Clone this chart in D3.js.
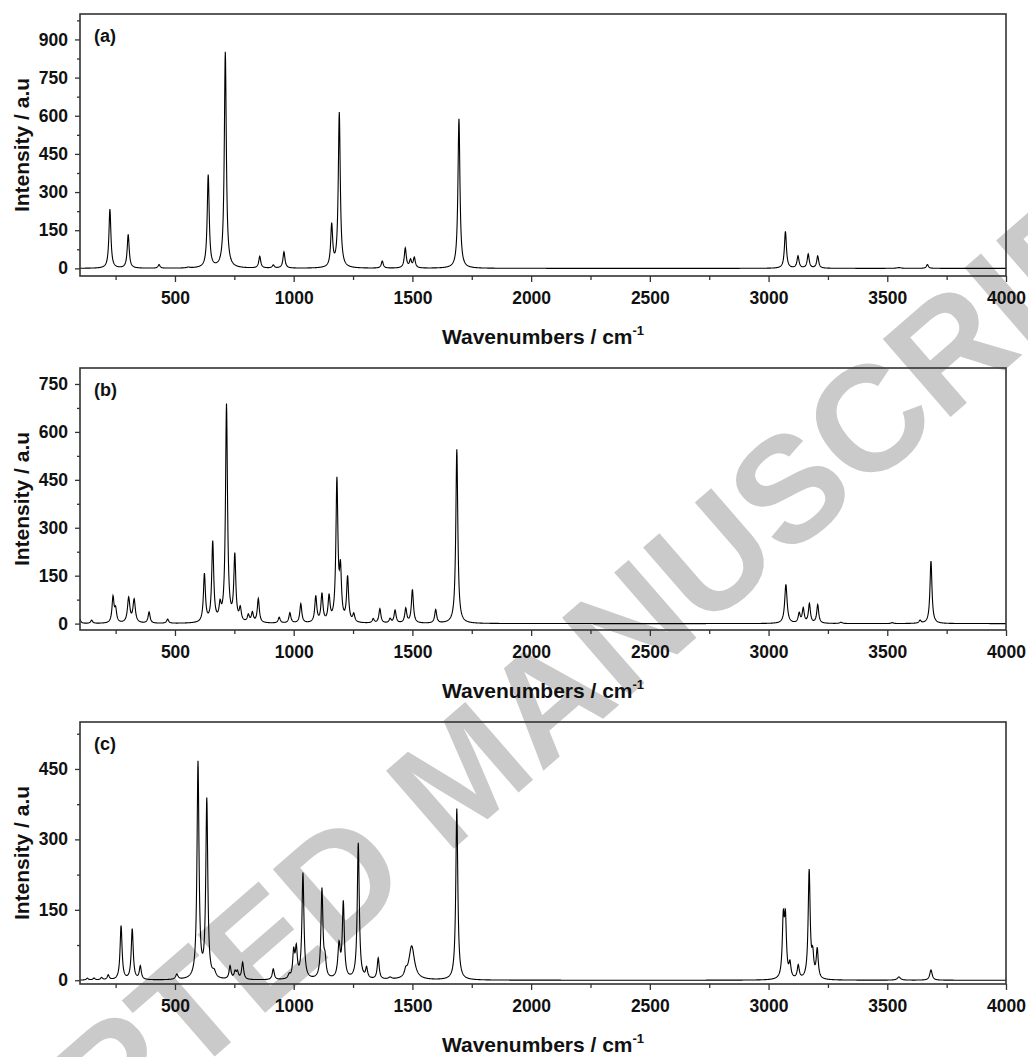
<!DOCTYPE html>
<meta charset="utf-8">
<title>IR spectra</title>
<style>
body {
  margin: 0;
  background: #fff;
}

svg text {
  font-family: "Liberation Sans", Arial, sans-serif;
  font-weight: bold;
  fill: #111;
}

.tick text {
  font-size: 17.5px;
}

.axis-title {
  font-size: 21px;
}

.panel-label {
  font-size: 18px;
}

.watermark {
  font-size: 150px;
}

</style>
<body>
<svg width="1028" height="1057"></svg>

<script src="https://cdnjs.cloudflare.com/ajax/libs/d3/7.8.5/d3.min.js"></script>

<script>
// peak lists (wavenumber, intensity, half width)
var peaksA = [226, 303, 433, 556, 640, 712, 857, 914, 959, 1160, 1192, 1373, 1470, 1492, 1508, 1696, 3071, 3124, 3167, 3207, 3549, 3669];
var intensA = [232, 132, 14, 3, 365, 850, 46, 12, 64, 165, 610, 28, 78, 30, 40, 588, 145, 48, 55, 48, 3, 15];
var widthA = [5, 5, 5, 8, 5, 5, 5, 5, 5, 5, 5, 5, 5, 5, 5, 5, 5, 5, 5, 5, 10, 5];

var peaksB = [98, 149, 239, 250, 305, 328, 391, 469, 624, 659, 690, 717, 752, 775, 809, 826, 851, 939, 984, 1030, 1093, 1119, 1149, 1182, 1197, 1227, 1253, 1335, 1363, 1406, 1427, 1472, 1500, 1598, 1687, 3073, 3129, 3146, 3172, 3207, 3305, 3521, 3638, 3684];
var intensB = [16, 10, 80, 40, 78, 72, 35, 13, 150, 250, 45, 680, 205, 40, 22, 30, 75, 18, 32, 60, 82, 88, 78, 440, 150, 140, 25, 13, 45, 13, 40, 45, 105, 42, 545, 122, 30, 45, 60, 58, 4, 3, 9, 196];
var widthB = [5, 5, 5, 5, 6, 6, 5, 5, 5, 5, 5, 5, 5, 5, 5, 5, 5, 5, 5, 5, 5, 5, 5, 5, 5, 5, 5, 5, 5, 5, 5, 5, 5, 5, 5, 6, 5, 5, 5, 5, 6, 5, 5, 5];

var peaksC = [131, 159, 191, 219, 273, 320, 354, 508, 597, 634, 665, 732, 753, 763, 785, 914, 981, 1000, 1011, 1039, 1119, 1132, 1191, 1209, 1272, 1307, 1356, 1406, 1472, 1497, 1687, 3062, 3071, 3090, 3125, 3171, 3186, 3205, 3549, 3684];
var intensC = [4, 4, 5, 10, 115, 108, 28, 11, 460, 380, 12, 28, 15, 15, 36, 23, 8, 55, 60, 225, 190, 35, 70, 160, 290, 22, 45, 4, 12, 72, 365, 120, 120, 30, 28, 230, 45, 62, 7, 22];
var widthC = [5, 5, 5, 5, 5, 5, 5, 6, 5, 5, 8, 5, 5, 5, 5, 5, 5, 5, 5, 5, 5, 5, 6, 5, 5, 5, 5, 8, 6, 14, 5, 5, 5, 5, 5, 5, 5, 5, 8, 6];

// axis ticks
var xTicks = [500, 1000, 1500, 2000, 2500, 3000, 3500, 4000];
var xMinor = [250, 750, 1250, 1750, 2250, 2750, 3250, 3750];
var xDomain = [100, 4000];

var yTicksA = [0, 150, 300, 450, 600, 750, 900];
var yMinorA = [75, 225, 375, 525, 675, 825, 975];
var yTicksB = [0, 150, 300, 450, 600, 750];
var yMinorB = [75, 225, 375, 525, 675];
var yTicksC = [0, 150, 300, 450];
var yMinorC = [75, 225, 375, 525];

var panels = [
  {label: "(a)", pos: peaksA, val: intensA, w: widthA, yDomain: [-30, 1000], ticks: yTicksA, minor: yMinorA},
  {label: "(b)", pos: peaksB, val: intensB, w: widthB, yDomain: [-20, 800], ticks: yTicksB, minor: yMinorB},
  {label: "(c)", pos: peaksC, val: intensC, w: widthC, yDomain: [-8, 550], ticks: yTicksC, minor: yMinorC}
];

var svg = d3.select("svg"),
    width = +svg.attr("width"),
    height = +svg.attr("height");

var left = 80, right = 1006,
    tops = [14, 368, 722],
    plotH = 262;

// watermark sits behind everything
svg.append("text")
    .attr("class", "watermark")
    .attr("text-anchor", "middle")
    .attr("dy", "0.35em")
    .attr("transform", "translate(462,772) rotate(-41)")
    .style("fill", "#cacaca")
    .text("ACCEPTED MANUSCRIPT");

var x = d3.scaleLinear().domain(xDomain).range([left, right]);

// broaden the stick spectrum into a continuous trace
function spectrum(p) {
  var pts = [];
  for (var v = xDomain[0]; v <= xDomain[1]; v += 1) {
    var s = 0;
    for (var k = 0; k < p.pos.length; k++) {
      var g = p.w[k], dx = v - p.pos[k];
      s += p.val[k] * g * g / (dx * dx + g * g);
    }
    pts.push([v, s]);
  }
  return pts;
}

panels.forEach(function(p, i) {
  var top = tops[i], bottom = top + plotH;
  var y = d3.scaleLinear().domain(p.yDomain).range([bottom, top]);
  var g = svg.append("g");

  g.append("clipPath")
      .attr("id", "clip" + i)
    .append("rect")
      .attr("x", left).attr("y", top)
      .attr("width", right - left).attr("height", plotH);

  var line = d3.line()
      .x(function(d) { return x(d[0]); })
      .y(function(d) { return y(d[1]); });

  g.append("path")
      .datum(spectrum(p))
      .attr("clip-path", "url(#clip" + i + ")")
      .attr("fill", "none")
      .attr("stroke", "#000")
      .attr("stroke-width", 1.1)
      .attr("d", line);

  // x axis, major + minor
  g.append("g")
      .attr("transform", "translate(0," + bottom + ")")
      .call(d3.axisBottom(x).tickValues(xTicks).tickSize(6).tickPadding(10).tickFormat(d3.format("d")));
  g.append("g")
      .attr("transform", "translate(0," + bottom + ")")
      .call(d3.axisBottom(x).tickValues(xMinor).tickSize(4).tickFormat(""));

  // y axis, major + minor
  g.append("g")
      .attr("transform", "translate(" + left + ",0)")
      .call(d3.axisLeft(y).tickValues(p.ticks).tickSize(5).tickPadding(7).tickFormat(d3.format("d")));
  g.append("g")
      .attr("transform", "translate(" + left + ",0)")
      .call(d3.axisLeft(y).tickValues(p.minor).tickSize(3).tickFormat(""));

  g.selectAll(".domain").remove();
  g.selectAll(".tick line").attr("stroke", "#333").attr("stroke-width", 1.3);

  // frame
  g.append("rect")
      .attr("x", left).attr("y", top)
      .attr("width", right - left).attr("height", plotH)
      .attr("fill", "none")
      .attr("stroke", "#333")
      .attr("stroke-width", 1.6);

  g.append("text")
      .attr("class", "panel-label")
      .attr("x", 94)
      .attr("y", top + 28)
      .text(p.label);

  var t = g.append("text")
      .attr("class", "axis-title")
      .attr("text-anchor", "middle")
      .attr("x", (left + right) / 2)
      .attr("y", bottom + 68);
  t.append("tspan").text("Wavenumbers / cm");
  t.append("tspan").attr("dy", -9).style("font-size", "13px").text("-1");

  g.append("text")
      .attr("class", "axis-title")
      .attr("text-anchor", "middle")
      .attr("transform", "rotate(-90)")
      .attr("x", -(top + plotH / 2))
      .attr("y", 29)
      .text("Intensity / a.u");
});
</script>
</body>
